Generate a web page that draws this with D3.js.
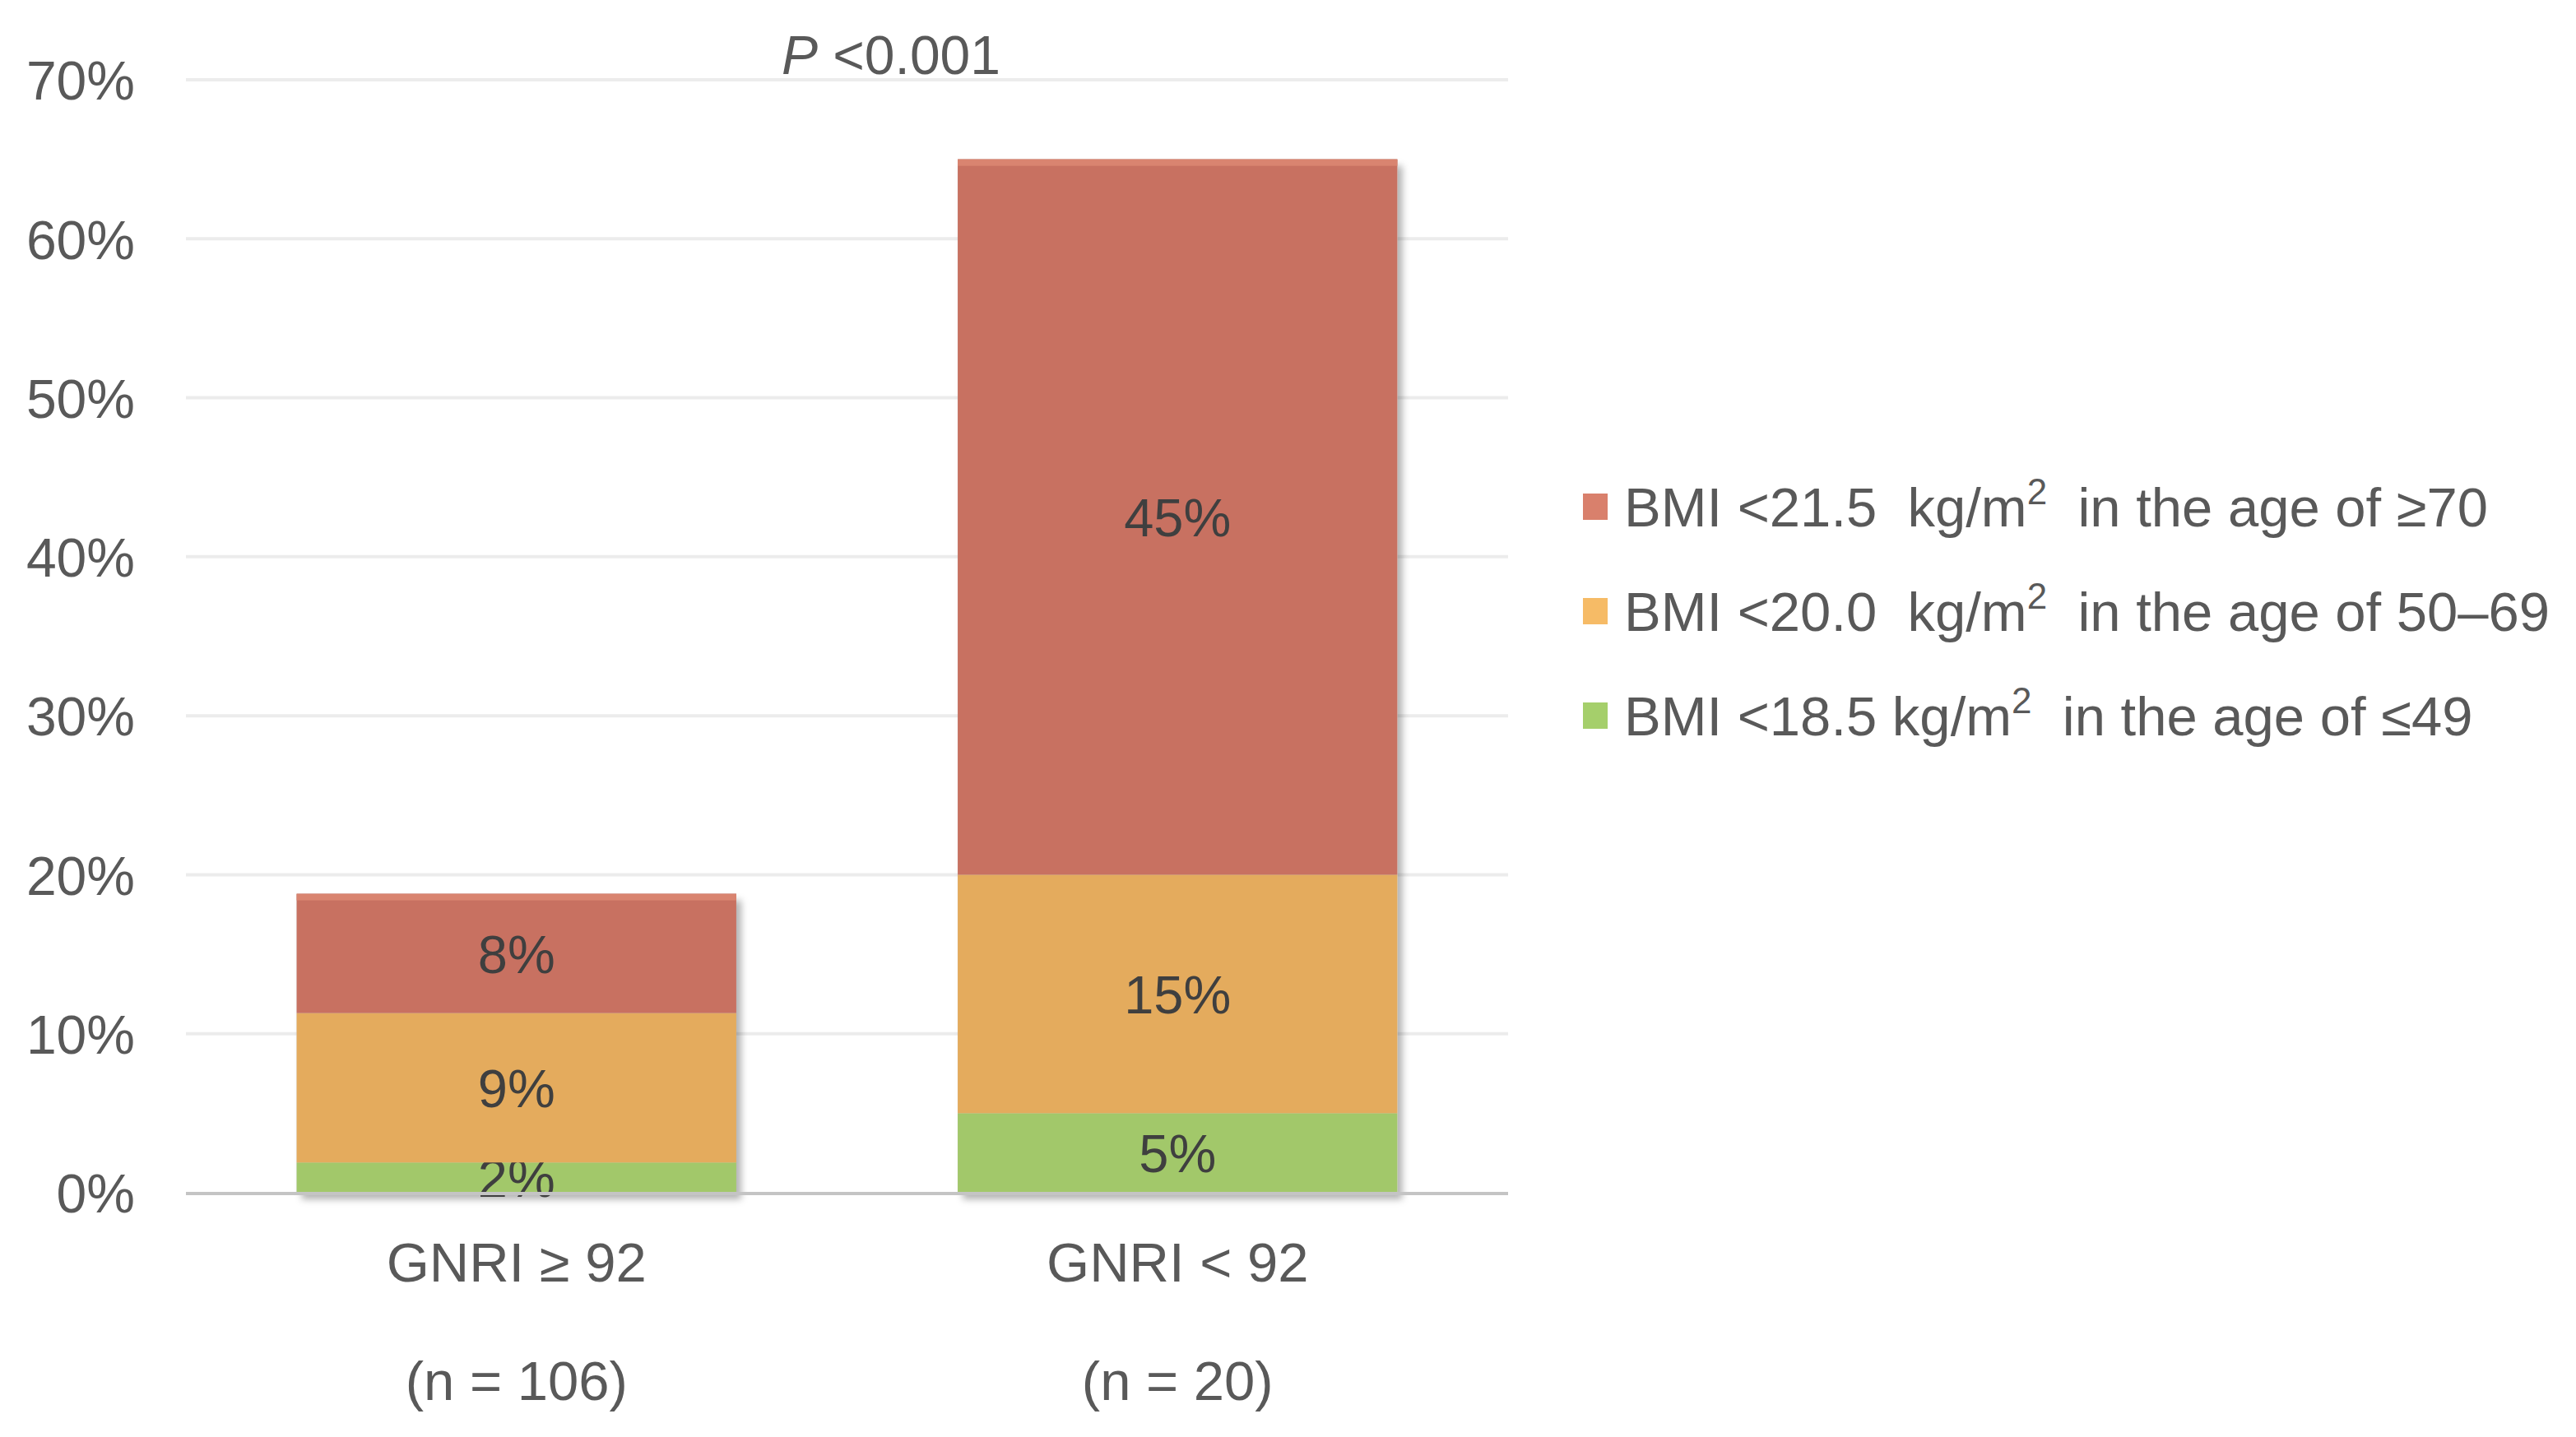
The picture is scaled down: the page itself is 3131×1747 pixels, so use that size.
<!DOCTYPE html>
<html>
<head>
<meta charset="utf-8">
<script src="https://cdn.jsdelivr.net/npm/d3@7"></script>
<style>
  html, body { margin: 0; padding: 0; background: #ffffff; }
  svg { display: block; }
  text { font-family: "Liberation Sans", Arial, sans-serif; white-space: pre; }
</style>
</head>
<body>
<script>
// ---------------- data ----------------
const categories = ["GNRI \u2265 92", "GNRI < 92"];
const sampleSizes = ["(n = 106)", "(n = 20)"];
const seriesNames = ["green", "orange", "red"];
const greenValues = [1.9, 5];     // BMI <18.5 kg/m2, age ≤49
const orangeValues = [9.4, 15];   // BMI <20.0 kg/m2, age 50–69
const redValues = [7.5, 45];      // BMI <21.5 kg/m2, age ≥70
const tickValues = [0, 10, 20, 30, 40, 50, 60, 70];
const pValueText = "<0.001";
const legendItems = [
  { key: "red",    pre: "BMI <21.5  kg/m", sup: "2", post: "  in the age of \u226570" },
  { key: "orange", pre: "BMI <20.0  kg/m", sup: "2", post: "  in the age of 50\u201369" },
  { key: "green",  pre: "BMI <18.5 kg/m",  sup: "2", post: "  in the age of \u226449" }
];

// ---------------- styles ----------------
const barColors = { red: "#c87161", orange: "#e4ab5d", green: "#a2c86a" };
const legendColors = { red: "#d9806c", orange: "#f6bb66", green: "#a5cf6b" };

const W = 3131, H = 1747;
const plot = { left: 226, right: 1833, top: 97, bottom: 1450 };

const svg = d3.select("body").append("svg")
  .attr("width", W).attr("height", H)
  .attr("viewBox", `0 0 ${W} ${H}`);

const defs = svg.append("defs");
const f = defs.append("filter").attr("id", "shadow")
  .attr("x", "-10%").attr("y", "-10%").attr("width", "130%").attr("height", "130%");
f.append("feDropShadow").attr("dx", 6).attr("dy", 8).attr("stdDeviation", 4)
  .attr("flood-color", "#000").attr("flood-opacity", 0.3);

const x = d3.scaleBand()
  .domain(categories)
  .range([plot.left, plot.right])
  .paddingInner(0.335)
  .paddingOuter(0.1675);

const y = d3.scaleLinear().domain([0, 70]).range([plot.bottom, plot.top]);

// gridlines
svg.append("g").selectAll("line")
  .data(tickValues.filter(d => d > 0))
  .join("line")
  .attr("x1", plot.left).attr("x2", plot.right)
  .attr("y1", d => y(d)).attr("y2", d => y(d))
  .attr("stroke", "#ececec").attr("stroke-width", 4);

// y axis labels
const yAxis = d3.axisLeft(y).tickValues(tickValues).tickFormat(d => d + "%").tickSize(0).tickPadding(0);
const yg = svg.append("g").attr("transform", `translate(164,0)`).call(yAxis);
yg.select(".domain").remove();
yg.selectAll("text")
  .attr("font-family", "Liberation Sans, Arial, sans-serif")
  .attr("font-size", 66).attr("fill", "#595959").attr("dy", "0.36em");

// stacked data
const rows = categories.map((c, i) => ({
  cat: c, green: greenValues[i], orange: orangeValues[i], red: redValues[i]
}));
const stack = d3.stack().keys(seriesNames)(rows);

const barsG = svg.append("g");
// shadow layer beneath
barsG.append("g").attr("filter", "url(#shadow)")
  .selectAll("rect")
  .data(rows)
  .join("rect")
  .attr("x", d => x(d.cat))
  .attr("width", x.bandwidth())
  .attr("y", d => y(d.green + d.orange + d.red))
  .attr("height", d => y(0) - y(d.green + d.orange + d.red))
  .attr("fill", "#ccc");

const layers = barsG.selectAll("g.layer")
  .data(stack)
  .join("g").attr("class", "layer")
  .attr("fill", d => barColors[d.key]);

layers.selectAll("rect")
  .data(d => d)
  .join("rect")
  .attr("x", d => x(d.data.cat))
  .attr("width", x.bandwidth())
  .attr("y", d => y(d[1]))
  .attr("height", d => y(d[0]) - y(d[1]));

// lighter top strip on top segment
barsG.append("g").selectAll("rect")
  .data(stack[2])
  .join("rect")
  .attr("x", d => x(d.data.cat))
  .attr("width", x.bandwidth())
  .attr("y", d => y(d[1]))
  .attr("height", 8)
  .attr("fill", "#d98470");

// baseline axis
svg.append("line")
  .attr("x1", plot.left).attr("x2", plot.right)
  .attr("y1", y(0) + 1).attr("y2", y(0) + 1)
  .attr("stroke", "#c4c4c4").attr("stroke-width", 4);

// data labels
layers.selectAll("text")
  .data(d => d)
  .join("text")
  .attr("x", d => x(d.data.cat) + x.bandwidth() / 2)
  .attr("y", d => (y(d[0]) + y(d[1])) / 2)
  .attr("dy", "0.36em")
  .attr("text-anchor", "middle")
  .attr("font-size", 65)
  .attr("fill", "#3f3f3f")
  .text(d => Math.round(d[1] - d[0]) + "%");

// category labels
const catG = svg.append("g");
catG.selectAll("text.cat")
  .data(categories)
  .join("text").attr("class", "cat")
  .attr("x", d => x(d) + x.bandwidth() / 2)
  .attr("y", 1534).attr("dy", "0.36em")
  .attr("text-anchor", "middle")
  .attr("font-size", 67).attr("fill", "#595959")
  .text(d => d);
catG.selectAll("text.n")
  .data(categories)
  .join("text").attr("class", "n")
  .attr("x", d => x(d) + x.bandwidth() / 2)
  .attr("y", 1678).attr("dy", "0.36em")
  .attr("text-anchor", "middle")
  .attr("font-size", 67).attr("fill", "#595959")
  .text((d, i) => sampleSizes[i]);

// P value
const pt = svg.append("text")
  .attr("x", 1083).attr("y", 90)
  .attr("text-anchor", "middle")
  .attr("font-size", 66).attr("fill", "#595959");
pt.append("tspan").attr("font-style", "italic").text("P");
pt.append("tspan").text(" " + pValueText);

// legend
const legY = [640, 767, 894];
const lg = svg.append("g");
legendItems.forEach((it, i) => {
  lg.append("rect")
    .attr("x", 1924).attr("y", legY[i] - 40)
    .attr("width", 30).attr("height", 32)
    .attr("fill", legendColors[it.key]);
  const t = lg.append("text")
    .attr("x", 1974).attr("y", legY[i])
    .attr("font-size", 67).attr("fill", "#595959");
  t.append("tspan").text(it.pre);
  t.append("tspan").attr("font-size", 44).attr("dy", -27).text(it.sup);
  t.append("tspan").attr("dy", 27).text(it.post);
});
</script>
</body>
</html>
